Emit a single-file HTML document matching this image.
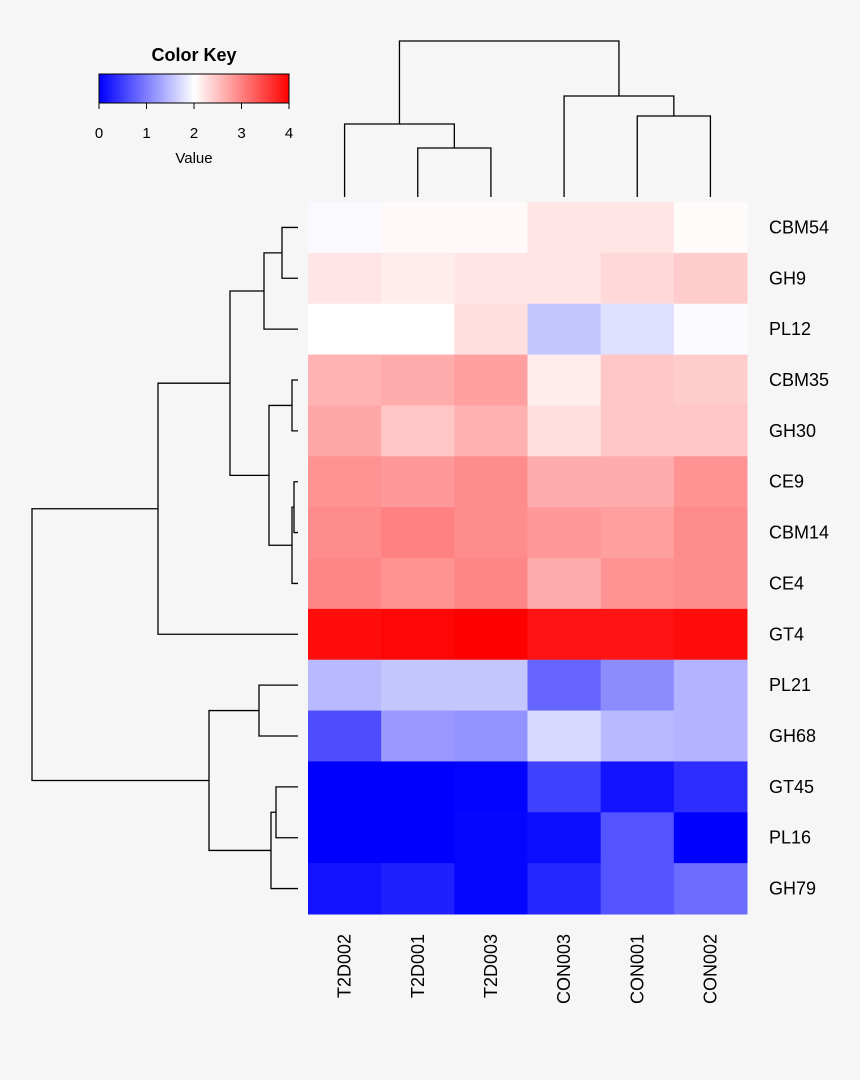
<!DOCTYPE html>
<html><head><meta charset="utf-8"><style>
body{margin:0;background:#f6f6f6;}
svg{display:block;font-family:"Liberation Sans",Arial,sans-serif;}
</style></head><body>
<svg id="chart" width="860" height="1080" viewBox="0 0 860 1080">
<rect width="860" height="1080" fill="#f6f6f6"/>
<g id="key"></g>
<g id="cells"></g>
<g id="rowlabels"></g>
<g id="collabels"></g>
<g id="dendro" stroke="#000" stroke-width="1.3" fill="none"></g>
</svg>
<script>
const rows = ["CBM54","GH9","PL12","CBM35","GH30","CE9","CBM14","CE4","GT4","PL21","GH68","GT45","PL16","GH79"];
const cols = ["T2D002","T2D001","T2D003","CON003","CON001","CON002"];
const values = [
[1.95,2.05,2.05,2.2,2.2,2.03],
[2.2,2.15,2.2,2.2,2.3,2.4],
[2.0,2.0,2.25,1.55,1.75,1.97],
[2.6,2.65,2.75,2.15,2.45,2.4],
[2.7,2.45,2.62,2.25,2.45,2.45],
[2.85,2.8,2.9,2.65,2.65,2.85],
[2.9,3.0,2.9,2.8,2.75,2.9],
[2.95,2.85,2.95,2.65,2.85,2.9],
[3.9,3.95,4.0,3.85,3.85,3.9],
[1.45,1.55,1.55,0.8,1.1,1.4],
[0.6,1.2,1.15,1.7,1.45,1.4],
[0.0,0.0,0.02,0.5,0.15,0.35],
[0.0,0.0,0.05,0.1,0.65,0.0],
[0.15,0.25,0.05,0.3,0.65,0.85]
];
const keyTicks = [0,1,2,3,4];

const NS="http://www.w3.org/2000/svg";
const X0=308,X1=747,Y0=202,Y1=914;
const cw=(X1-X0)/cols.length, rh=(Y1-Y0)/rows.length;
const xCol=i=>X0+i*cw, yRow=i=>Y0+i*rh;
function color(v){
  v=Math.max(0,Math.min(4,v));
  if(v<2){const c=Math.round(255*v/2);return `rgb(${c},${c},255)`;}
  const c=Math.round(255*(4-v)/2);return `rgb(255,${c},${c})`;
}
function mk(tag,attrs,parent){const e=document.createElementNS(NS,tag);for(const k in attrs)e.setAttribute(k,attrs[k]);parent.appendChild(e);return e;}

const cells=document.getElementById('cells');
values.forEach((row,r)=>row.forEach((v,c)=>{
  const e=mk('rect',{x:xCol(c),y:yRow(r),width:cw+0.5,height:rh+0.5,fill:color(v)},cells);
  
  
}));
const rl=document.getElementById('rowlabels');
rows.forEach((n,r)=>{
  const t=mk('text',{x:769,y:yRow(r)+rh/2+6,'font-size':18,fill:'#000'},rl);t.textContent=n;
  
  
});
const cl=document.getElementById('collabels');
cols.forEach((n,c)=>{
  const x=xCol(c)+cw/2+6,y=934;
  const t=mk('text',{x:x,y:y,'font-size':18,fill:'#000','text-anchor':'end',transform:`rotate(-90 ${x} ${y})`},cl);t.textContent=n;
  
  
});

// color key
const key=document.getElementById('key');
const KX0=99,KX1=289,KY=74,KH=29;
const kx=v=>KX0+(KX1-KX0)*v/4;
for(let i=0;i<190;i++){mk('rect',{x:KX0+i,y:KY,width:1.2,height:KH,fill:color(i/190*4)},key);}
mk('rect',{x:KX0,y:KY,width:KX1-KX0,height:KH,fill:'none',stroke:'#000','stroke-width':1},key);
const kt=mk('text',{x:194,y:61,'font-size':18,'font-weight':'bold','text-anchor':'middle'},key);kt.textContent='Color Key';


keyTicks.forEach(v=>{
  mk('line',{x1:kx(v),x2:kx(v),y1:KY+KH,y2:KY+KH+6,stroke:'#000'},key);
  const t=mk('text',{x:kx(v),y:138,'font-size':15,'text-anchor':'middle'},key);t.textContent=v;
  
  
});
const vt=mk('text',{x:194,y:163,'font-size':15,'text-anchor':'middle'},key);vt.textContent='Value';



// dendrograms
const d=document.getElementById('dendro');
const ry=i=>yRow(i)+rh/2, cx=i=>xCol(i)+cw/2;
function rj(x,y1,y2,x1,x2){mk('path',{d:`M${x1},${y1}H${x}V${y2}H${x2}`},d);}
function cj(y,x1,x2,y1,y2){mk('path',{d:`M${x1},${y1}V${y}H${x2}V${y2}`},d);}
const RB=298;
rj(282,ry(0),ry(1),RB,RB);
rj(264,(ry(0)+ry(1))/2,ry(2),282,RB);
rj(292,ry(3),ry(4),RB,RB);
rj(294,ry(5),ry(6),RB,RB);
rj(292,(ry(5)+ry(6))/2,ry(7),294,RB);
rj(269,(ry(3)+ry(4))/2,((ry(5)+ry(6))/2+ry(7))/2,292,292);
const a=((ry(0)+ry(1))/2+ry(2))/2, b=((ry(3)+ry(4))/2+((ry(5)+ry(6))/2+ry(7))/2)/2;
rj(230,a,b,264,269);
rj(158,(a+b)/2,ry(8),230,RB);
rj(259,ry(9),ry(10),RB,RB);
rj(276,ry(11),ry(12),RB,RB);
rj(271,(ry(11)+ry(12))/2,ry(13),276,RB);
const c1=(ry(9)+ry(10))/2,c2=((ry(11)+ry(12))/2+ry(13))/2;
rj(209,c1,c2,259,271);
rj(32,((a+b)/2+ry(8))/2,(c1+c2)/2,158,209);
const CB=197;
cj(148,cx(1),cx(2),CB,CB);
cj(124,cx(0),(cx(1)+cx(2))/2,CB,148);
cj(116,cx(4),cx(5),CB,CB);
cj(96,cx(3),(cx(4)+cx(5))/2,CB,116);
cj(41,(cx(0)+(cx(1)+cx(2))/2)/2,(cx(3)+(cx(4)+cx(5))/2)/2,124,96);
</script>
</body></html>
